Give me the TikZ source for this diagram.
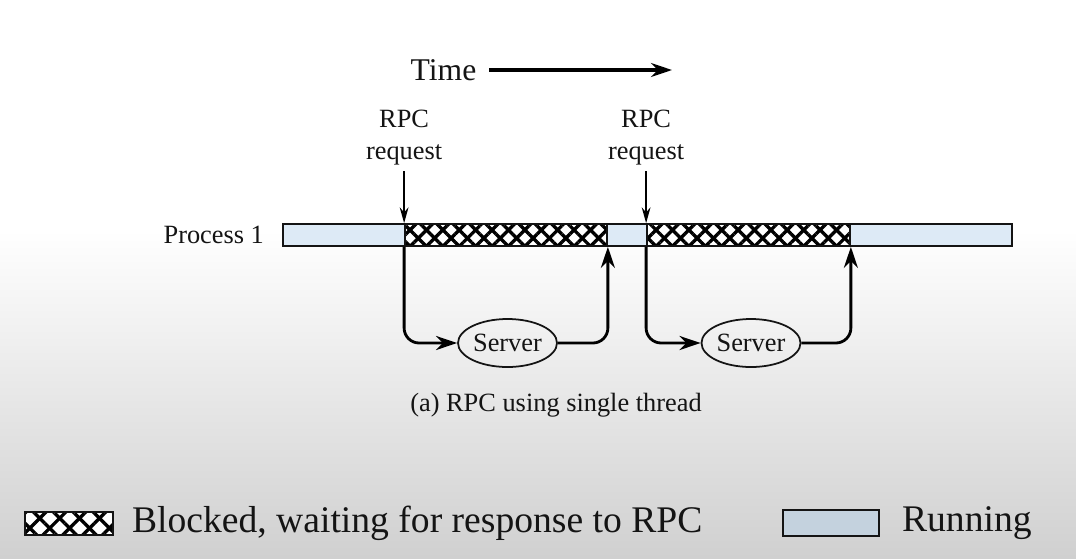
\documentclass[tikz,border=0pt]{standalone}
\usepackage{fontspec}
\setmainfont{Liberation Serif}
\usetikzlibrary{positioning,shapes.geometric,arrows.meta,patterns.meta}
\definecolor{runblue}{RGB}{221,234,246}
\definecolor{runlegend}{RGB}{196,210,222}
\definecolor{ink}{RGB}{20,20,20}
\definecolor{shadebot}{RGB}{208,208,208}
\begin{document}
\begin{tikzpicture}[
    txt/.style={font=\fontsize{15}{18}\selectfont, text=ink},
    big/.style={font=\fontsize{21.4}{24}\selectfont, text=ink},
    run/.style={draw=ink, line width=1pt, fill=runblue, minimum height=0.44cm, inner sep=0pt},
    blocked/.style={draw=ink, line width=1pt, fill=white, minimum height=0.44cm, inner sep=0pt, pattern color=black,
        postaction={pattern={Lines[angle=45,distance=#1,line width=1.9pt]}},
        postaction={pattern={Lines[angle=-45,distance=#1,line width=1.9pt]}},
        postaction={draw=ink, line width=1pt}},
    blocked/.default=6.6pt,
    server/.style={draw=ink, ellipse, line width=1pt, minimum width=1.98cm, minimum height=0.96cm, inner sep=0pt, txt},
    flow/.style={line width=1.6pt, rounded corners=0.3cm, -{Stealth[length=12pt,width=8pt]}},
    ]
    \useasboundingbox (0,0) rectangle (21.52,-11.16);
    \fill[white] (0,0) rectangle (21.52,-11.16);
    \shade[top color=white, bottom color=shadebot] (0,-4.6) rectangle (21.52,-11.16);

    \node[txt, font=\fontsize{18}{20}\selectfont] (time) at (8.87,-1.40) {Time};
    \coordinate (timeend) at (13.44,-1.40);
    \draw[line width=1.8pt, -{Stealth[length=12pt,width=8pt]}] ([xshift=0.13cm]time.east) -- (timeend);

    \node[run, minimum width=14.58cm] (bar) at (12.95,-4.70) {};
    \node[blocked, minimum width=4.04cm] (blk1) at (10.12,-4.70) {};
    \node[blocked, minimum width=4.06cm] (blk2) at (14.97,-4.70) {};
    \node[txt, left=0.24cm of bar] (proc) {Process 1};

    \node[txt, align=center, above=1.04cm of blk1.north west] (req1) {RPC\\request};
    \node[txt, align=center, above=1.04cm of blk2.north west] (req2) {RPC\\request};
    \draw[line width=0.8pt, -{Stealth[length=9pt,width=5pt]}] (req1) -- (blk1.north west);
    \draw[line width=0.8pt, -{Stealth[length=9pt,width=5pt]}] (req2) -- (blk2.north west);

    \node[server] (srv1) at (10.15,-6.86) {Server};
    \node[server] (srv2) at (15.02,-6.86) {Server};
    \draw[flow] (blk1.south west) |- (srv1);
    \draw[flow] (srv1) -| (blk1.south east);
    \draw[flow] (blk2.south west) |- (srv2);
    \draw[flow] (srv2) -| (blk2.south east);

    \node[txt] (cap) at (11.12,-8.10) {(a) RPC using single thread};

    % legend
    \node[blocked=8pt, minimum width=1.76cm, minimum height=0.46cm] (legblk) at (1.38,-10.47) {};
    \node[big, right=0.24cm of legblk] (legblktxt) {Blocked, waiting for response to RPC};
    \node[run, fill=runlegend, minimum width=1.92cm, minimum height=0.52cm] (legrun) at (16.62,-10.46) {};
    \node[big, right=0.32cm of legrun] (legruntxt) {Running};
\end{tikzpicture}
\end{document}
